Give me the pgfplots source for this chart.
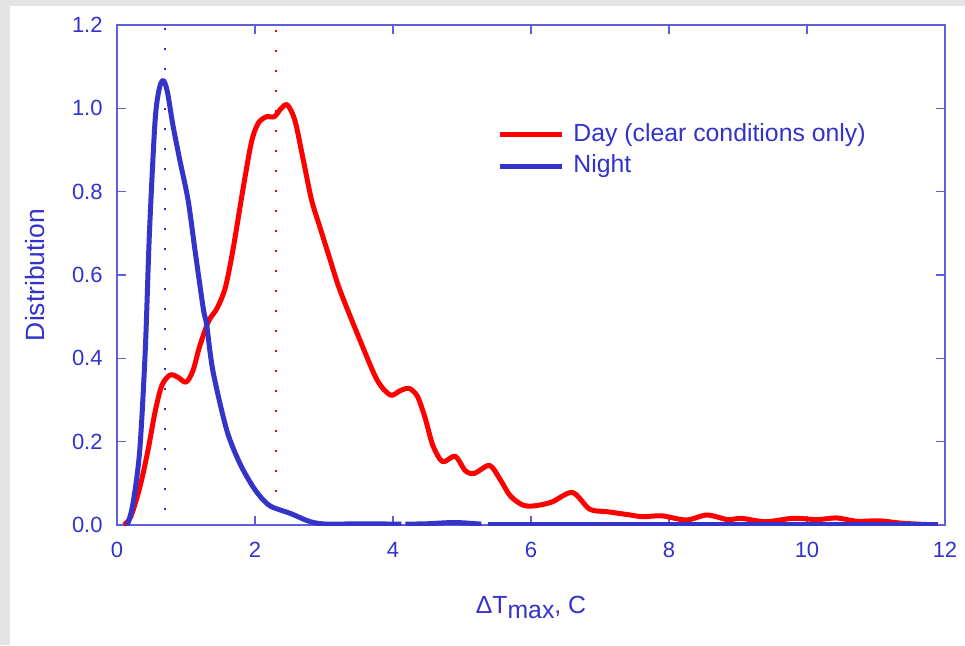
\documentclass[border=0pt]{standalone}
\usepackage{fontspec}
\setmainfont{Liberation Sans}
\usepackage{pgfplots}
\pgfplotsset{compat=1.18}
\definecolor{textblue}{RGB}{51,51,204}
\definecolor{axcol}{RGB}{95,95,220}
\definecolor{lineblue}{RGB}{52,52,200}
\definecolor{bggray}{RGB}{228,228,228}
\newcommand\tickfont{\fontsize{11}{13}\selectfont}
\newcommand\labelfont{\fontsize{12.4}{14}\selectfont}
\begin{document}
\begin{tikzpicture}
\path[use as bounding box] (-58.5pt,-60pt) rectangle (424pt,262.5pt);
\fill[white] (-58.5pt,-60pt) rectangle (424pt,262.5pt);
\fill[bggray] (-58.5pt,-60pt) rectangle (-53.5pt,262.5pt);
\fill[bggray] (-58.5pt,259.5pt) rectangle (424pt,262.5pt);
\begin{axis}[
  at={(0pt,0pt)}, anchor=south west,
  scale only axis, width=414pt, height=250pt,
  xmin=0, xmax=12, ymin=0, ymax=1.2,
  xtick={0,2,4,6,8,10,12}, ytick={0,0.2,0.4,0.6,0.8,1.0,1.2},
  xtick pos=both, ytick pos=both,
  xticklabel pos=lower, yticklabel pos=left,
  tick align=inside, major tick length=4.5pt,
  axis line style={color=axcol, line width=0.8pt},
  tick style={color=axcol, line width=0.7pt},
  /pgf/number format/assume math mode=true,
  yticklabel={\pgfmathprintnumber[fixed,fixed zerofill,precision=1]{\tick}},
  xticklabel={\pgfmathprintnumber[fixed,precision=0]{\tick}},
  ticklabel style={font=\tickfont, text=textblue},
  yticklabel style={inner sep=0pt, xshift=-7pt},
  xticklabel style={inner sep=0pt, yshift=-8.5pt},
  xlabel={ΔT\raisebox{-2.7pt}{max}, C},
  ylabel={Distribution},
  label style={font=\labelfont, text=textblue},
  xlabel style={at={(axis description cs:0.5,-0.176)}, anchor=base},
  ylabel style={at={(axis description cs:-0.099,0.5)}, anchor=center, font=\fontsize{13.2}{15}\selectfont},
  legend style={at={(rel axis cs:0.459,0.804)}, anchor=north west, draw=none, fill=none,
    font=\labelfont, text=textblue, inner sep=0pt, row sep=4.3pt, column sep=4.5pt,
    nodes={inner sep=0pt, text height=8.9pt, text depth=2.6pt}},
  legend cell align=left,
  legend image code/.code={\draw[#1, line width=2.5pt] (0pt,0pt) -- (31pt,0pt);},
]
\addplot[draw=red, line width=1pt, dash pattern=on 0.9pt off 9.1pt, forget plot] coordinates {(2.3,0.08) (2.3,1.2)};
\addplot[draw=lineblue, line width=1pt, dash pattern=on 0.9pt off 9.1pt, forget plot] coordinates {(0.7,0.036) (0.7,1.2)};
\addplot[red, line width=2.5pt, smooth, tension=0.5, line join=round] coordinates {
(0.10,0.000) (0.20,0.02) (0.33,0.09) (0.45,0.18) (0.55,0.27) (0.65,0.335) (0.77,0.36)
(0.88,0.355) (1.00,0.343) (1.10,0.37) (1.20,0.43) (1.33,0.49) (1.45,0.52) (1.57,0.57)
(1.68,0.66) (1.83,0.81) (1.95,0.92) (2.05,0.965) (2.17,0.98) (2.28,0.98) (2.38,1.0)
(2.47,1.008) (2.58,0.97) (2.70,0.876) (2.82,0.78) (2.95,0.71) (3.09,0.636) (3.23,0.564)
(3.52,0.444) (3.77,0.348) (3.96,0.312) (4.10,0.322) (4.23,0.328) (4.35,0.31) (4.46,0.26)
(4.58,0.19) (4.72,0.152) (4.90,0.165) (5.05,0.13) (5.18,0.124) (5.40,0.143) (5.55,0.11)
(5.70,0.07) (5.88,0.048) (6.05,0.046) (6.30,0.055) (6.60,0.078) (6.85,0.038) (7.10,0.032)
(7.40,0.025) (7.62,0.02) (7.90,0.022) (8.25,0.012) (8.55,0.024) (8.85,0.013) (9.05,0.016)
(9.40,0.008) (9.80,0.016) (10.15,0.013) (10.43,0.017) (10.72,0.009) (11.05,0.010)
(11.40,0.004) (11.90,0.000)};
\addlegendentry{Day (clear conditions only)}
\addplot[lineblue, line width=2.5pt, smooth, tension=0.5, line join=round] coordinates {
(0.15,0.0) (0.23,0.05) (0.33,0.18) (0.41,0.42) (0.47,0.70) (0.55,0.965) (0.61,1.045)
(0.67,1.067) (0.73,1.04) (0.81,0.96) (0.91,0.876) (1.03,0.78) (1.13,0.66) (1.25,0.52)
(1.30,0.48) (1.39,0.37) (1.59,0.228) (1.78,0.148) (1.97,0.092) (2.12,0.06) (2.25,0.043)
(2.51,0.028) (2.80,0.008) (3.05,0.002) (3.5,0.003) (4.12,0.002)};
\addlegendentry{Night}
\addplot[lineblue, line width=2.5pt, smooth, tension=0.5, forget plot] coordinates {
(4.18,0.002) (4.5,0.003) (4.9,0.006) (5.28,0.002)};
\addplot[lineblue, line width=2.5pt, forget plot] coordinates {
(5.38,0.001) (8.0,0.001) (11.9,0.001)};
\end{axis}
\end{tikzpicture}
\end{document}
